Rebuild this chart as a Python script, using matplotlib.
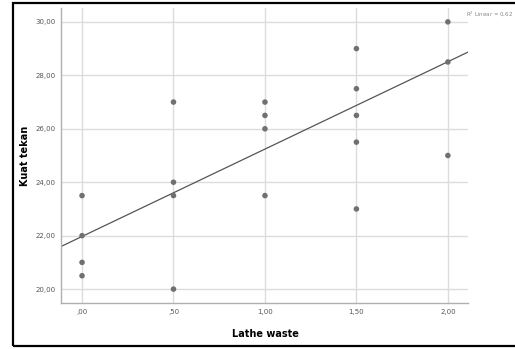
#!/usr/bin/env python3
"""Scatter of Kuat tekan vs Lathe waste with linear fit (SPSS style)."""
import matplotlib

matplotlib.use("Agg")
import matplotlib.pyplot as plt  # noqa: E402
from matplotlib.patches import Rectangle  # noqa: E402
from matplotlib.ticker import FuncFormatter  # noqa: E402

lathe_waste = [0.0, 0.0, 0.0, 0.0,
               0.5, 0.5, 0.5, 0.5,
               1.0, 1.0, 1.0, 1.0,
               1.5, 1.5, 1.5, 1.5, 1.5,
               2.0, 2.0, 2.0]
kuat_tekan = [23.5, 22.0, 21.0, 20.5,
              27.0, 24.0, 23.5, 20.0,
              27.0, 26.5, 26.0, 23.5,
              29.0, 27.5, 26.5, 25.5, 23.0,
              30.0, 28.5, 25.0]
# fit line as shown in the picture
fit_intercept = 21.97
fit_slope = 3.27
r2_label = "R$^2$ Linear = 0,62"

x_ticks = [0.0, 0.5, 1.0, 1.5, 2.0]
y_ticks = [20, 22, 24, 26, 28, 30]


def comma_fmt(v, _pos):
    s = f"{v:.2f}".replace(".", ",")
    if s.startswith("0,"):
        s = s[1:]
    return s


fig = plt.figure(figsize=(5.15, 3.49), dpi=100)
ax = fig.add_axes([61 / 515, 1 - 303 / 349, 407 / 515, 295 / 349])

xmin, xmax = -0.115, 2.11
ax.set_xlim(xmin, xmax)
ax.set_ylim(19.48, 30.52)

ax.set_xticks(x_ticks)
ax.set_yticks(y_ticks)
ax.xaxis.set_major_formatter(FuncFormatter(comma_fmt))
ax.yaxis.set_major_formatter(FuncFormatter(comma_fmt))
ax.tick_params(length=0, labelsize=5, labelcolor="#555555", pad=4)
ax.grid(True, color="#dcdcdc", linewidth=1.0)
ax.set_axisbelow(True)

for side in ("top", "right"):
    ax.spines[side].set_visible(False)
for side in ("left", "bottom"):
    ax.spines[side].set_color("#b0b0b0")
    ax.spines[side].set_linewidth(1.0)

ax.scatter(lathe_waste, kuat_tekan, s=16, color="#707070", zorder=3,
           edgecolors="none")
ax.plot([xmin, xmax], [fit_intercept + fit_slope * xmin, fit_intercept + fit_slope * xmax],
        color="#555555", linewidth=0.9, zorder=2)

ax.set_xlabel("Lathe waste", fontsize=7, fontweight="bold")
ax.set_ylabel("Kuat tekan", fontsize=7, fontweight="bold")
ax.xaxis.set_label_coords((265 - 61) / 407, (303 - 329) / 295)
ax.yaxis.set_label_coords((30 - 61) / 407, 0.5)

fig.text(466 / 515, 1 - 14 / 349, r2_label, fontsize=4, color="#888888",
         va="center", ha="left")

fig.patches.append(Rectangle((13 / 515, 3 / 349), 510 / 515, 343 / 349,
                             transform=fig.transFigure, fill=False,
                             edgecolor="black", linewidth=1.6))

fig.savefig("out.png", dpi=100)
